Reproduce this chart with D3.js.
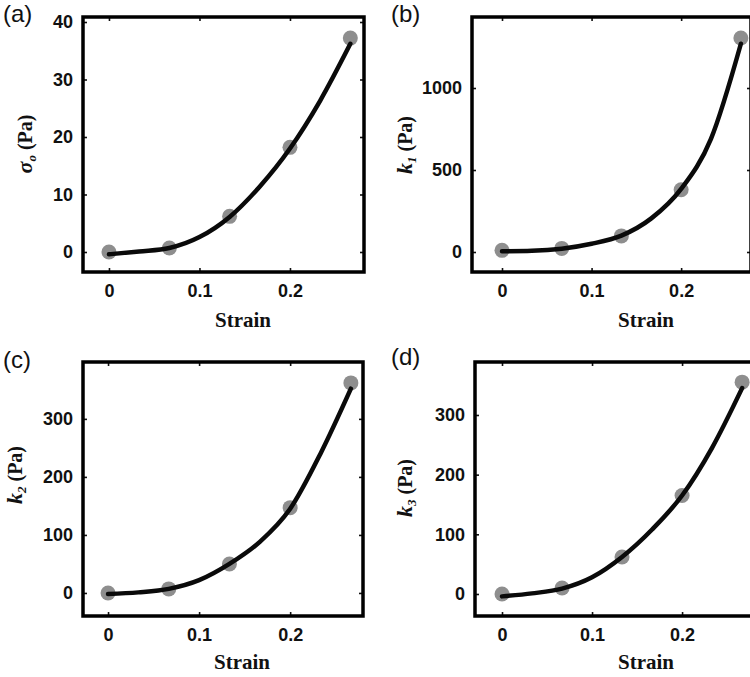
<!DOCTYPE html>
<html>
<head>
<meta charset="utf-8">
<script src="https://cdn.jsdelivr.net/npm/d3@7"></script>
<style>
  body { margin: 0; background: #fff; }
  svg { display: block; }
</style>
</head>
<body>
<svg id="chart" width="750" height="677"></svg>
<script>
// measured strain levels and fitted parameters
const strain = [0, 0.0667, 0.1333, 0.2, 0.2667];
const sigma0 = [0, 0.7, 6.2, 18.2, 37.2];
const k1 = [10, 22, 98, 380, 1305];
const k2 = [0, 7, 50, 147, 362];
const k3 = [0, 10, 62, 165, 355];

// fitted curves
const fitStrain = [0, 0.0333, 0.0667, 0.1, 0.1333, 0.1667, 0.2, 0.2333, 0.2667];
const sigma0Fit = [-0.4, 0.1, 0.7, 2.6, 6.1, 11.4, 18.0, 26.3, 36.2];
const k1Fit = [4, 7, 20, 50, 100, 205, 385, 690, 1270];
const k2Fit = [-2, 1, 7, 22, 50, 88, 145, 240, 352];
const k3Fit = [-4, 1, 9, 28, 62, 108, 165, 245, 345];

const xTicks = [0, 0.1, 0.2];
const sigma0Ticks = [0, 10, 20, 30, 40];
const k1Ticks = [0, 500, 1000];
const k2Ticks = [0, 100, 200, 300];
const k3Ticks = [0, 100, 200, 300];

const panelLetters = ["(a)", "(b)", "(c)", "(d)"];
const ySymbols = ["\u03c3", "k", "k", "k"];
const ySubs = ["o", "1", "2", "3"];
const yUnit = " (Pa)";
const xLabel = "Strain";

const panels = [
  {pts: sigma0, fit: sigma0Fit, ticks: sigma0Ticks,
   x0: 83, x1: 364, y0: 17, y1: 272, xd: [-0.0287, 0.2818], yd: [-3.48, 40.87],
   letter: [3, 22], ylab: [25, 144], xlab: [243, 327]},
  {pts: k1, fit: k1Fit, ticks: k1Ticks,
   x0: 472, x1: 751, y0: 17, y1: 272, xd: [-0.0335, 0.278], yd: [-122, 1433],
   letter: [391, 22], ylab: [405, 145], xlab: [646, 327]},
  {pts: k2, fit: k2Fit, ticks: k2Ticks,
   x0: 83, x1: 363, y0: 362, y1: 616, xd: [-0.0275, 0.280], yd: [-39.7, 398],
   letter: [3, 368], ylab: [15, 475], xlab: [242, 669]},
  {pts: k3, fit: k3Fit, ticks: k3Ticks,
   x0: 475, x1: 755, y0: 362, y1: 616, xd: [-0.03, 0.281], yd: [-36.9, 388.8],
   letter: [391, 365], ylab: [405, 488], xlab: [646, 669]}
];

const svg = d3.select("#chart");
const sans = "'Liberation Sans', Arial, sans-serif";
const serif = "'Liberation Serif', 'Times New Roman', serif";

panels.forEach((p, i) => {
  const x = d3.scaleLinear().domain(p.xd).range([p.x0, p.x1]);
  const y = d3.scaleLinear().domain(p.yd).range([p.y1, p.y0]);
  const g = svg.append("g");

  // ticks pointing inward, on all four sides
  const bottom = g.append("g").attr("transform", `translate(0,${p.y1})`)
    .call(d3.axisBottom(x).tickValues(xTicks).tickSize(-4).tickPadding(12).tickFormat(d3.format("")));
  const top = g.append("g").attr("transform", `translate(0,${p.y0})`)
    .call(d3.axisTop(x).tickValues(xTicks).tickSize(-4).tickFormat(""));
  const left = g.append("g").attr("transform", `translate(${p.x0},0)`)
    .call(d3.axisLeft(y).tickValues(p.ticks).tickSize(-4).tickPadding(10).tickFormat(d3.format("")));
  const right = g.append("g").attr("transform", `translate(${p.x1},0)`)
    .call(d3.axisRight(y).tickValues(p.ticks).tickSize(-4).tickFormat(""));

  [bottom, top, left, right].forEach(a => {
    a.select(".domain").remove();
    a.selectAll(".tick line").attr("stroke", "#111").attr("stroke-width", 1.6);
    a.selectAll(".tick text")
      .attr("fill", "#111")
      .style("font-family", sans)
      .style("font-size", "18px")
      .style("font-weight", "bold");
  });

  // frame
  g.append("rect")
    .attr("x", p.x0).attr("y", p.y0)
    .attr("width", p.x1 - p.x0).attr("height", p.y1 - p.y0)
    .attr("fill", "none")
    .attr("stroke", "#000")
    .attr("stroke-width", 3.5);

  // data points
  g.selectAll(".pt")
    .data(strain.map((s, j) => [s, p.pts[j]]))
    .enter()
    .append("circle")
    .attr("class", "pt")
    .attr("cx", d => x(d[0]))
    .attr("cy", d => y(d[1]))
    .attr("r", 7.5)
    .attr("fill", "#8e8e8e");

  // fitted curve
  const line = d3.line()
    .x(d => x(d[0]))
    .y(d => y(d[1]))
    .curve(d3.curveMonotoneX);
  g.append("path")
    .datum(fitStrain.map((s, j) => [s, p.fit[j]]))
    .attr("d", line)
    .attr("fill", "none")
    .attr("stroke", "#0a0a0a")
    .attr("stroke-width", 4.5)
    .attr("stroke-linecap", "round");

  // panel letter
  g.append("text")
    .attr("x", p.letter[0]).attr("y", p.letter[1])
    .style("font-family", sans)
    .style("font-size", "24px")
    .attr("fill", "#111")
    .text(panelLetters[i]);

  // y label
  const yl = g.append("text")
    .attr("transform", `translate(${p.ylab[0]},${p.ylab[1]}) rotate(-90)`)
    .attr("text-anchor", "middle")
    .attr("dy", "0.35em")
    .style("font-family", serif)
    .style("font-weight", "bold")
    .style("font-size", "20px")
    .attr("fill", "#111");
  yl.append("tspan").style("font-style", "italic").style("font-size", "22px").text(ySymbols[i]);
  yl.append("tspan").style("font-style", "italic").style("font-size", "13px").attr("dy", 4).text(ySubs[i]);
  yl.append("tspan").attr("dy", -4).text(yUnit);

  // x label
  g.append("text")
    .attr("x", p.xlab[0]).attr("y", p.xlab[1])
    .attr("text-anchor", "middle")
    .style("font-family", serif)
    .style("font-weight", "bold")
    .style("font-size", "21px")
    .attr("fill", "#111")
    .text(xLabel);
});
</script>
</body>
</html>
